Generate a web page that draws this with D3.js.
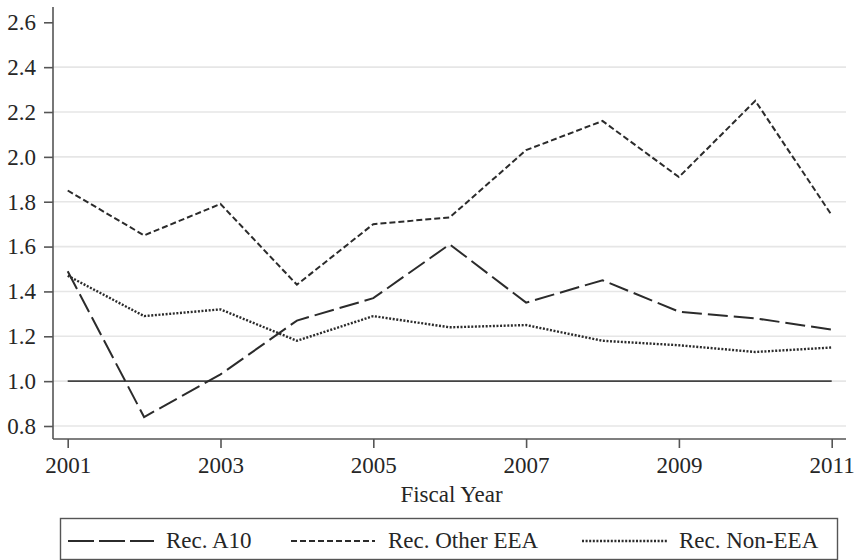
<!DOCTYPE html>
<html>
<head>
<meta charset="utf-8">
<script src="https://cdn.jsdelivr.net/npm/d3@7"></script>
<style>
  html, body { margin: 0; padding: 0; background: #fff; }
  svg { display: block; }
  text { font-family: "Liberation Serif", "DejaVu Serif", serif; fill: #262626; }
</style>
</head>
<body>
<svg id="chart" width="854" height="560"></svg>
<script>
// Fiscal years on the x axis
const years = [2001, 2002, 2003, 2004, 2005, 2006, 2007, 2008, 2009, 2010, 2011];

// Series values per fiscal year
const recA10      = [1.49, 0.84, 1.03, 1.27, 1.37, 1.61, 1.35, 1.45, 1.31, 1.28, 1.23];
const recOtherEEA = [1.85, 1.65, 1.79, 1.43, 1.70, 1.73, 2.03, 2.16, 1.91, 2.25, 1.74];
const recNonEEA   = [1.47, 1.29, 1.32, 1.18, 1.29, 1.24, 1.25, 1.18, 1.16, 1.13, 1.15];

// Axis ticks and labels
const yTicks = [0.8, 1.0, 1.2, 1.4, 1.6, 1.8, 2.0, 2.2, 2.4, 2.6];
const xTicks = [2001, 2003, 2005, 2007, 2009, 2011];
const referenceValue = 1.0;

const seriesNames = ["Rec. A10", "Rec. Other EEA", "Rec. Non-EEA"];
const seriesValues = [recA10, recOtherEEA, recNonEEA];
const seriesDash = ["20,6", "6,3", "2,1.6"];

const fontSize = "23px";
const svg = d3.select("#chart");

const plotLeft = 53, plotRight = 846, plotTop = 7, plotBottom = 439;

const x = d3.scaleLinear().domain([2001, 2011]).range([67.7, 831.7]);
const y = d3.scaleLinear().domain([0.8, 2.6]).range([426, 22.3]);

// Grid lines (none at the top tick)
svg.append("g")
  .selectAll("line")
  .data(yTicks.filter(t => t < 2.55))
  .join("line")
  .attr("x1", plotLeft).attr("x2", plotRight)
  .attr("y1", d => y(d)).attr("y2", d => y(d))
  .attr("stroke", "#e6e6e6").attr("stroke-width", 1.6);

// Y axis
const yAxis = svg.append("g")
  .attr("transform", `translate(${plotLeft},0)`)
  .call(d3.axisLeft(y).tickValues(yTicks).tickFormat(d3.format(".1f")).tickSize(9).tickPadding(8));
yAxis.select(".domain").remove();
yAxis.append("line")
  .attr("x1", 0).attr("x2", 0).attr("y1", plotTop).attr("y2", plotBottom)
  .attr("stroke", "#555").attr("stroke-width", 1.6);
yAxis.selectAll(".tick line").attr("stroke", "#555").attr("stroke-width", 1.6);
yAxis.selectAll(".tick text")
  .attr("fill", "#262626").style("font-size", fontSize)
  .style("font-family", "Liberation Serif, serif");

// X axis
const xAxis = svg.append("g")
  .attr("transform", `translate(0,${plotBottom})`)
  .call(d3.axisBottom(x).tickValues(xTicks).tickFormat(d3.format("d")).tickSize(9).tickPadding(9));
xAxis.select(".domain").remove();
xAxis.append("line")
  .attr("x1", plotLeft).attr("x2", plotRight).attr("y1", 0).attr("y2", 0)
  .attr("stroke", "#555").attr("stroke-width", 1.6);
xAxis.selectAll(".tick line").attr("stroke", "#555").attr("stroke-width", 1.6);
xAxis.selectAll(".tick text")
  .attr("fill", "#262626").style("font-size", fontSize)
  .style("font-family", "Liberation Serif, serif");

// X axis title
svg.append("text")
  .attr("x", (plotLeft + plotRight) / 2 + 2).attr("y", 502)
  .attr("text-anchor", "middle")
  .style("font-size", fontSize)
  .text("Fiscal Year");

// Reference line at 1.0
svg.append("line")
  .attr("x1", x(years[0])).attr("x2", x(years[years.length - 1]))
  .attr("y1", y(referenceValue)).attr("y2", y(referenceValue))
  .attr("stroke", "#444").attr("stroke-width", 1.6);

// Series lines
const line = d3.line().x((d, i) => x(years[i])).y(d => y(d));
svg.append("g")
  .selectAll("path")
  .data(seriesValues)
  .join("path")
  .attr("d", d => line(d))
  .attr("fill", "none")
  .attr("stroke", "#2b2b2b")
  .attr("stroke-width", (d, i) => i === 2 ? 2.4 : 2)
  .attr("stroke-dasharray", (d, i) => seriesDash[i]);

// Legend
const legend = svg.append("g");
legend.append("rect")
  .attr("x", 60.5).attr("y", 518.5).attr("width", 777).attr("height", 41)
  .attr("fill", "#fff").attr("stroke", "#555").attr("stroke-width", 1.4);

const legendItems = [
  { sx1: 68, sx2: 154, tx: 166 },
  { sx1: 291, sx2: 375, tx: 388 },
  { sx1: 582, sx2: 667, tx: 679 }
];
legendItems.forEach((it, i) => {
  legend.append("line")
    .attr("x1", it.sx1).attr("x2", it.sx2).attr("y1", 541).attr("y2", 541)
    .attr("stroke", "#2b2b2b")
    .attr("stroke-width", i === 2 ? 2.4 : 2)
    .attr("stroke-dasharray", i === 0 ? "26,5" : seriesDash[i]);
  legend.append("text")
    .attr("x", it.tx).attr("y", 548)
    .style("font-size", fontSize)
    .text(seriesNames[i]);
});
</script>
</body>
</html>
